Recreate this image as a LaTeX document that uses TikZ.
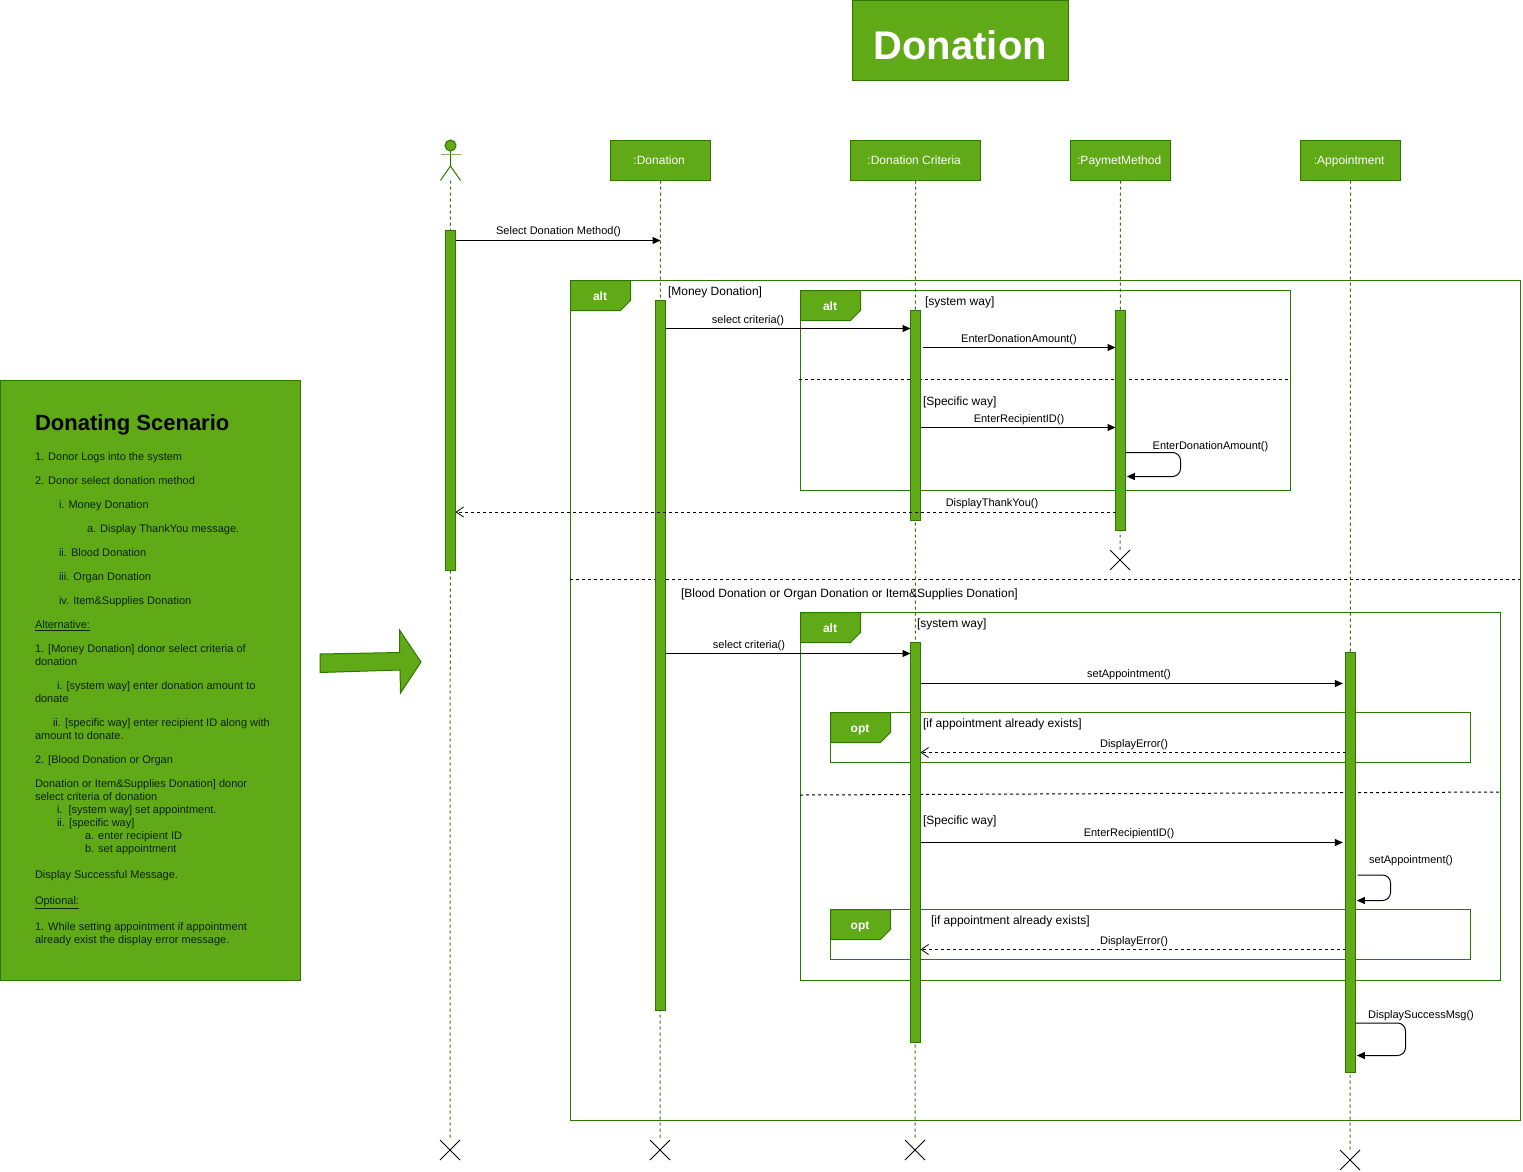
\documentclass[tikz,border=0pt]{standalone}
\usepackage{fontspec}
\setmainfont{Liberation Sans}
\usetikzlibrary{arrows.meta, positioning, shapes.misc}
\definecolor{seqfill}{HTML}{60A917}
\definecolor{seqline}{HTML}{2D7600}
\definecolor{scenetext}{HTML}{0C2402}
\tikzset{
  x=0.75pt,
  y=-0.75pt,
  boxsize/.style 2 args={minimum width=#1*0.75pt, minimum height=#2*0.75pt},
  every node/.style={inner sep=0pt, outer sep=0pt},
  greenbox/.style={draw=seqline, fill=seqfill, line width=0.75pt},
  head/.style={greenbox, boxsize={#1}{40}, anchor=north, text=white, text height=6.5pt, text depth=0pt,
               execute at begin node=\kern-2pt, font=\fontsize{9pt}{11pt}\selectfont},
  bar/.style={greenbox, boxsize={10}{#1}, anchor=north},
  frame/.style={draw=seqline, line width=0.75pt},
  tab/.style={greenbox},
  tablabel/.style={text=white, text height=6.5pt, text depth=0pt, font=\fontsize{9pt}{11pt}\selectfont\bfseries},
  guard/.style={anchor=west, yshift=-0.75pt, font=\fontsize{9pt}{11pt}\selectfont},
  msglabel/.style={yshift=-0.75pt, font=\fontsize{8.25pt}{10pt}\selectfont},
  lifeline/.style={draw=seqline, line width=0.75pt, dash pattern=on 2.25pt off 2.25pt},
  divider/.style={line width=0.75pt, dash pattern=on 2.25pt off 2.25pt},
  msg/.style={-{Triangle[length=6pt,width=5.25pt]}, line width=0.75pt},
  reply/.style={-{Straight Barb[length=5.5pt,width=7.5pt,line width=0.6pt]}, line width=0.6pt, dash pattern=on 2.25pt off 2.25pt},
  selfcall/.style={msg, rounded corners=6pt},
  endmark/.style={cross out, draw, line width=0.6pt, boxsize={20}{20}},
  scenetxt/.style={anchor=base west, text=scenetext, font=\fontsize{8.25pt}{10pt}\selectfont},
}

\begin{document}
\begin{tikzpicture}
  \useasboundingbox (0,0) rectangle (1523,1171);

  % title and scenario
  \node[greenbox, boxsize={215.5}{80}, anchor=north west, text=white, text height=29pt, text depth=0pt,
        font=\fontsize{30pt}{36pt}\selectfont\bfseries]
       (title) at (852.5,0.5) {Donation};
  \node[greenbox, boxsize={300}{600}, anchor=north west] (scenario) at (0.5,380.5) {};
  \node[scenetxt, text=black, font=\fontsize{16.5pt}{20pt}\selectfont\bfseries] (sceneTitle) at (35,430) {Donating Scenario};
  \foreach \ypos/\xpos/\txt in {
      460/35/{1. Donor Logs into the system},
      484/35/{2. Donor select donation method},
      508/59/{i. Money Donation},
      532/87/{a. Display ThankYou message.},
      556/59/{ii. Blood Donation},
      580/59/{iii. Organ Donation},
      604/59/{iv. Item\&Supplies Donation},
      628/35/{\underline{Alternative:}},
      652/35/{1. [Money Donation] donor select criteria of},
      665/35/{donation},
      689/57/{i. [system way] enter donation amount to},
      702/35/{donate},
      726/53/{ii. [specific way] enter recipient ID along with},
      739/35/{amount to donate.},
      763/35/{2. [Blood Donation or Organ},
      787/35/{Donation or Item\&Supplies Donation] donor},
      800/35/{select criteria of donation},
      813/57/{i.\ \ [system way] set appointment.},
      826/57/{ii. [specific way]},
      839/85/{a. enter recipient ID},
      852/85/{b. set appointment},
      878/35/{Display Successful Message.},
      904/35/{\underline{Optional:}},
      930/35/{1. While setting appointment if appointment},
      943/35/{already exist the display error message.}}
    \node[scenetxt] (scene\ypos) at (\xpos,\ypos) {\txt};
  \draw[greenbox] (320,654) -- (399.5,652.5) -- (399.5,630) -- (421,662) -- (400.5,693) -- (400,670) -- (320,672.5) -- cycle;

  % frames
  \node[frame, boxsize={950}{840}, anchor=north west] (altMain)   at (570.5,280.5) {};
  \node[frame, boxsize={490}{200}, anchor=north west] (altMoney)  at (800.5,290.5) {};
  \node[frame, boxsize={700}{368}, anchor=north west] (altOther)  at (800.5,612.5) {};
  \node[frame, boxsize={640}{50},  anchor=north west] (optFirst)  at (830.5,712.5) {};
  \node[frame, boxsize={640}{50},  anchor=north west] (optSecond) at (830.5,909.5) {};
  \foreach \nm/\lbl/\xpos/\ypos in {tabMain/alt/570.5/280.5, tabMoney/alt/800.5/290.5, tabOther/alt/800.5/612.5,
                                    tabFirst/opt/830.5/712.5, tabSecond/opt/830.5/909.5} {
    \draw[tab] (\xpos,\ypos) -- ++(60,0) -- ++(0,20) -- ++(-10,10) -- ++(-50,0) -- cycle;
    \node[tablabel] (\nm) at ([shift={(29.5,15.5)}]\xpos,\ypos) {\lbl};
  }
  \coordinate (mainL)  at (570,579);
  \coordinate (mainR)  at (1520,579);
  \coordinate (moneyL) at (799,379);
  \coordinate (moneyR) at (1291,379);
  \coordinate (otherL) at (800,795);
  \coordinate (otherR) at (1500,792);
  \draw[divider] (mainL) -- (mainR);
  \draw[divider] (moneyL) -- (moneyR);
  \draw[divider] (otherL) -- (otherR);

  % lifelines
  \node[head=100] (headDonation) at (660.5,140.5) {:Donation};
  \node[head=130] (headCriteria) at (915.5,140.5) {:Donation Criteria};
  \node[head=100] (headPayment)  at (1120.5,140.5) {:PaymetMethod};
  \node[head=100] (headAppt)     at (1350.5,140.5) {:Appointment};
  \node[greenbox, circle, boxsize={11}{11}] (actorHead) at (450.5,145.5) {};
  \coordinate (actorNeck) at (450.5,166);
  \coordinate (actorBase) at (450.5,180.5);
  \draw[draw=seqline, line width=0.75pt] (actorHead.south) -- (actorNeck) -- ++(-10,14.5) ++(10,-14.5) -- ++(10,14.5);
  \draw[draw=seqline!60, line width=0.75pt] (440.5,154) -- (460.5,154);

  \node[endmark] (endDonor)    at (450,1150) {};
  \node[endmark] (endDonation) at (660,1150) {};
  \node[endmark] (endCriteria) at (915,1150) {};
  \node[endmark] (endPayment)  at (1120,560) {};
  \node[endmark] (endAppt)     at (1350,1160) {};

  \draw[lifeline] (actorBase) -- (endDonor.north);
  \draw[lifeline] (headDonation.south) -- (endDonation.north);
  \draw[lifeline] (headCriteria.south) -- (endCriteria.north);
  \draw[lifeline] (headPayment.south) -- (endPayment.north);
  \draw[lifeline] (headAppt.south) -- (endAppt.north);

  % activations
  \node[bar=340] (barDonor)     at (450.5,230.5) {};
  \node[bar=710] (barDonation)  at (660.5,300.5) {};
  \node[bar=210] (barCriteriaA) at (915.5,310.5) {};
  \node[bar=220] (barPayment)   at (1120.5,310.5) {};
  \node[bar=400] (barCriteriaB) at (915.5,642.5) {};
  \node[bar=420] (barAppt)      at (1350.5,652.5) {};

  % guards
  \node[guard] (guardMoney)   at (668,291)  {[Money Donation]};
  \node[guard] (guardOther)   at (681,593)  {[Blood Donation or Organ Donation or Item\&Supplies Donation]};
  \node[guard] (guardSystemA) at (925,301)  {[system way]};
  \node[guard] (guardSpecA)   at (923,401)  {[Specific way]};
  \node[guard] (guardSystemB) at (917,623)  {[system way]};
  \node[guard] (guardSpecB)   at (923,820)  {[Specific way]};
  \node[guard] (guardFirst)   at (923,723)  {[if appointment already exists]};
  \node[guard] (guardSecond)  at (931,920)  {[if appointment already exists]};

  % messages
  \draw[msg] (barDonor.east |- 0,240.5) -- (headDonation.south |- 0,240.5);
  \draw[msg] (barDonation.east |- 0,328.5) -- (barCriteriaA.west |- 0,328.5);
  \draw[msg] ([xshift=1.5pt]barCriteriaA.east |- 0,347.5) -- (barPayment.west |- 0,347.5);
  \draw[msg] (barCriteriaA.east |- 0,427.5) -- (barPayment.west |- 0,427.5);
  \draw[selfcall] (barPayment.east |- 0,452.5) -- ++(55,0) -- ++(0,24) -- ([xshift=1pt]barPayment.east |- 0,476.5);
  \draw[reply] (barPayment.west |- 0,512) -- (barDonor.east |- 0,512);
  \draw[msg] (barDonation.east |- 0,653.5) -- (barCriteriaB.west |- 0,653.5);
  \draw[msg] (barCriteriaB.east |- 0,683.5) -- ([xshift=-2pt]barAppt.west |- 0,683.5);
  \draw[reply] (barAppt.west |- 0,752.5) -- (barCriteriaB.east |- 0,752.5);
  \draw[msg] (barCriteriaB.east |- 0,842.5) -- ([xshift=-2pt]barAppt.west |- 0,842.5);
  \draw[selfcall] ([xshift=1.5pt]barAppt.east |- 0,875) -- ++(33,0) -- ++(0,25.5) -- ([xshift=1pt]barAppt.east |- 0,900.5);
  \draw[reply] (barAppt.west |- 0,949.5) -- (barCriteriaB.east |- 0,949.5);
  \draw[selfcall] (barAppt.east |- 0,1023) -- ++(50,0) -- ++(0,32.5) -- ([xshift=1pt]barAppt.east |- 0,1055.5);

  \node[msglabel] (lblSelect)    at (558.5,231)  {Select Donation Method()};
  \node[msglabel] (lblCriteriaA) at (748,319.5)  {select criteria()};
  \node[msglabel] (lblAmountA)   at (1019,338.5) {EnterDonationAmount()};
  \node[msglabel] (lblIdA)       at (1019,418.5) {EnterRecipientID()};
  \node[msglabel] (lblAmountB)   at (1210.5,445.5) {EnterDonationAmount()};
  \node[msglabel] (lblThanks)    at (992,502.5)  {DisplayThankYou()};
  \node[msglabel] (lblCriteriaB) at (749,644.5)  {select criteria()};
  \node[msglabel] (lblApptA)     at (1129,673.5) {setAppointment()};
  \node[msglabel] (lblErrorA)    at (1134,743.5) {DisplayError()};
  \node[msglabel] (lblIdB)       at (1129,832.5) {EnterRecipientID()};
  \node[msglabel] (lblApptB)     at (1411,859.5) {setAppointment()};
  \node[msglabel] (lblErrorB)    at (1134,940.5) {DisplayError()};
  \node[msglabel] (lblSuccess)   at (1421,1014.5) {DisplaySuccessMsg()};
\end{tikzpicture}
\end{document}
